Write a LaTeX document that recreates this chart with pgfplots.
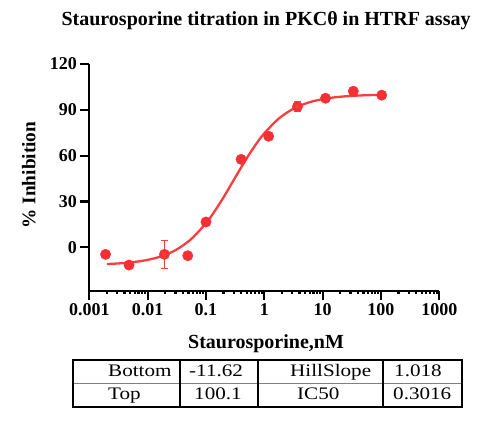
\documentclass[border=0pt]{standalone}
\usepackage{fontspec}
\setmainfont{Liberation Serif}
\newfontfamily\widefont[FakeStretch=1.2]{Liberation Serif}
\usepackage{pgfplots}
\pgfplotsset{compat=1.18}
\definecolor{curvered}{RGB}{250,62,62}
\definecolor{dotred}{RGB}{245,48,52}

\begin{document}
\begin{tikzpicture}
\path[use as bounding box] (0,0) rectangle (500pt,420pt);
\begin{axis}[
    at={(89.3pt,129.3pt)}, anchor=south west,
    scale only axis, width=350pt, height=226.7pt,
    xmode=log, xmin=0.001, xmax=1000,
    ymin=-28.4, ymax=120,
    axis x line*=bottom, axis y line*=left,
    axis line style={line width=2.2pt},
    xtick={0.001,0.01,0.1,1,10,100,1000},
    xticklabels={0.001,0.01,0.1,1,10,100,1000},
    minor xtick={},
    ytick={0,30,60,90,120},
    yticklabels={0,30,60,90,120},
    tick align=outside, major tick length=9pt,
    tick style={line width=2.2pt, black},
    ticklabel style={font=\fontsize{18}{19}\selectfont\bfseries},
    title={Staurosporine titration in PKCθ in HTRF assay},
    title style={font=\fontsize{20}{22}\selectfont\bfseries,
        at={(axis description cs:0.505,1.163)}, anchor=center},
    xlabel={Staurosporine,nM},
    xlabel style={font=\fontsize{20}{22}\selectfont\bfseries,
        at={(axis description cs:0.505,-0.235)}, anchor=center},
    ylabel={\% Inhibition},
    ylabel style={font=\fontsize{19.3}{21}\selectfont\bfseries,
        at={(axis description cs:-0.173,0.51)}, anchor=center},
]
% fitted 4PL curve (Bottom -11.62, Top 100.1, HillSlope 1.018, IC50 0.3016)
\addplot[curvered, line width=2.3pt, smooth] coordinates {
    (0.001995,-10.95) (0.003162,-10.55) (0.005623,-9.71) (0.01,-8.24)
    (0.01778,-5.69) (0.03162,-1.40) (0.05623,5.50) (0.1,15.79)
    (0.1334,22.29) (0.1778,29.57) (0.2371,37.44) (0.3162,45.59)
    (0.4217,53.68) (0.5623,61.39) (0.7499,68.43) (1,74.64)
    (1.778,84.34) (3.162,90.74) (5.623,94.69) (10,97.02)
    (17.78,98.37) (31.62,99.13) (56.23,99.56) (100,99.80)
};
% measured points
\addplot[dotred, only marks, mark=*, mark size=5.2pt,
    mark options={solid, fill=dotred, draw=dotred}] coordinates {
    (0.0019,-4.6) (0.0048,-11.6) (0.0194,-4.6) (0.0487,-5.5)
    (0.1,16.6) (0.40,57.6) (1.19,72.7) (3.7,92.1)
    (11.2,97.6) (33.6,102.2) (103,99.6)
};
% error bars
\addplot[curvered, only marks, mark=none,
    error bars/.cd, y dir=both, y explicit,
    error bar style={line width=1pt, curvered},
    error mark options={rotate=90, mark size=3.5pt, line width=1pt, curvered}]
    coordinates {
    (0.0194,-4.6) +- (0,9.1)
    (3.7,92.1) +- (0,3.4)
};
\end{axis}
\begin{scope}[x=1pt, y=-1pt, yshift=420pt]
\draw[gray, line width=1pt] (73.3,383.3) -- (461.7,383.3);
\draw[line width=2pt] (73.3,360) rectangle (461.7,406.7);
\foreach \xx in {180,258,383}
    \draw[line width=2pt] (\xx,360) -- (\xx,406.7);
\begin{scope}[every node/.style={anchor=base west, inner sep=0pt,
        font=\widefont\fontsize{17.6}{19}\selectfont}]
\node at (108,376.7) {Bottom};
\node at (189,376.7) {-11.62};
\node at (290,376.7) {HillSlope};
\node at (394,376.7) {1.018};
\node at (108,400) {Top};
\node at (194,400) {100.1};
\node at (297,400) {IC50};
\node at (393,400) {0.3016};
\end{scope}
\end{scope}
\end{tikzpicture}
\end{document}
